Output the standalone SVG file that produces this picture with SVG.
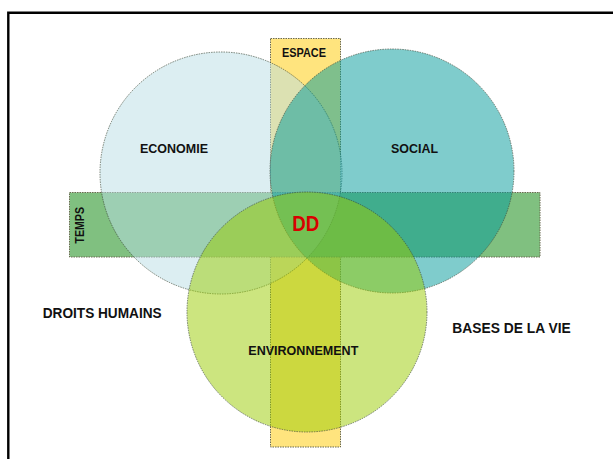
<svg xmlns="http://www.w3.org/2000/svg" width="613" height="459" viewBox="0 0 613 459">
  <style>
    .lbl { font-family: "Liberation Sans", Arial, sans-serif; font-weight: bold; fill: #111; }
    .rect { stroke: #6a6a50; stroke-width: 1; stroke-dasharray: 1.5 1; }
    .circ { fill-opacity: 0.5; stroke: #3d4a3a; stroke-opacity: 0.75; stroke-width: 0.9; stroke-dasharray: 1.5 1; }
  </style>
  <rect width="613" height="459" fill="#ffffff"/>
  <path d="M8.3 459 V12.8 H613" fill="none" stroke="#000" stroke-width="2.4"/>

  <g id="espace">
    <rect class="rect" x="270.5" y="38.5" width="70" height="408.5" fill="#FFE47E"/>
    <text class="lbl" x="282" y="57" font-size="12" textLength="44" lengthAdjust="spacingAndGlyphs">ESPACE</text>
  </g>

  <g id="temps">
    <rect class="rect" x="69.5" y="192.5" width="470.5" height="64.5" fill="#80C080"/>
    <text class="lbl" transform="translate(84 243.5) rotate(-90)" font-size="12.5" textLength="36.5" lengthAdjust="spacingAndGlyphs">TEMPS</text>
  </g>

  <g id="economie">
    <circle class="circ" cx="221" cy="173" r="121" fill="#B9DDE5"/>
    <text class="lbl" x="140" y="153" font-size="13.5" textLength="68" lengthAdjust="spacingAndGlyphs">ECONOMIE</text>
  </g>

  <g id="social">
    <circle class="circ" cx="392" cy="171" r="122" fill="#009999"/>
    <text class="lbl" x="391" y="153" font-size="13.5" textLength="47" lengthAdjust="spacingAndGlyphs">SOCIAL</text>
  </g>

  <g id="environnement">
    <circle class="circ" cx="307" cy="312" r="120" fill="#99CC00"/>
    <text class="lbl" x="248.3" y="355" font-size="13.5" textLength="110" lengthAdjust="spacingAndGlyphs">ENVIRONNEMENT</text>
  </g>

  <g id="dd">
    <text class="lbl" x="292.3" y="231" font-size="22" textLength="27" lengthAdjust="spacingAndGlyphs" style="fill:#D90000">DD</text>
  </g>

  <g id="droits-humains">
    <text class="lbl" x="42.7" y="317.5" font-size="13.8" textLength="119" lengthAdjust="spacingAndGlyphs">DROITS HUMAINS</text>
  </g>

  <g id="bases-de-la-vie">
    <text class="lbl" x="452.3" y="332.5" font-size="13.8" textLength="118.4" lengthAdjust="spacingAndGlyphs">BASES DE LA VIE</text>
  </g>

  <g id="connectors"/>
</svg>
